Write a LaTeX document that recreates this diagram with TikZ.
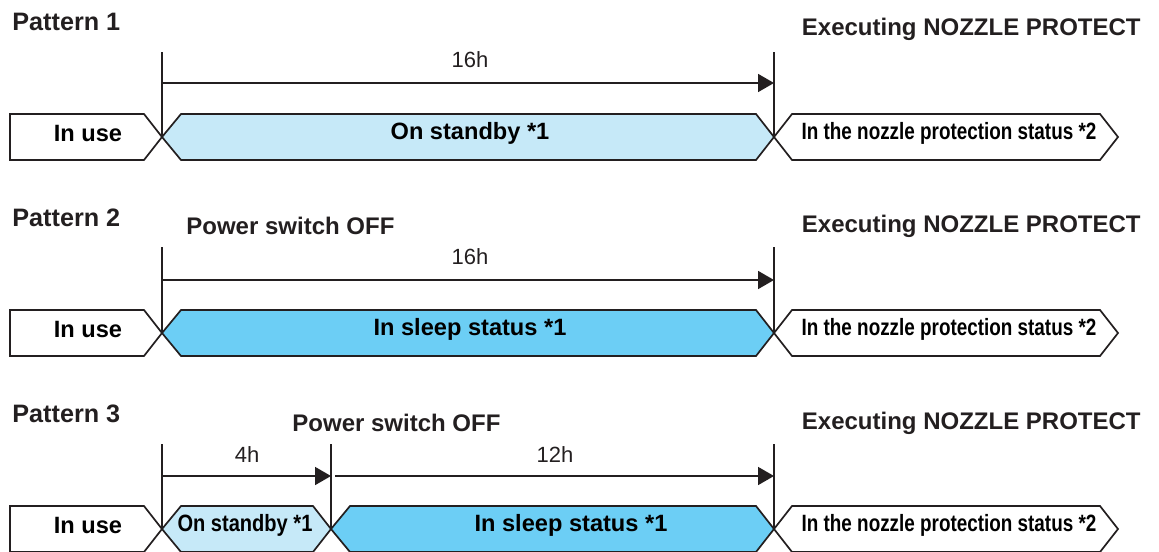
\documentclass[tikz,border=0pt]{standalone}
\usepackage{fontspec}
\setmainfont{Liberation Sans}
\newfontfamily\narrowfont[FakeStretch=0.8]{Liberation Sans}
\newfontfamily\halfnarrowfont[FakeStretch=0.85]{Liberation Sans}
\usetikzlibrary{arrows.meta}

\definecolor{ink}{RGB}{35,31,32}
\definecolor{standby}{RGB}{198,233,248}
\definecolor{sleep}{RGB}{108,206,245}

\begin{document}
\begin{tikzpicture}[x=0.5pt,y=-0.5pt,>={Triangle[length=8pt,width=9pt]},
    line join=miter,
    frame/.style={draw=ink,line width=0.85pt},
    tick/.style={draw=ink,line width=0.85pt},
    span/.style={draw=ink,line width=0.85pt,->},
    pattern/.style={font=\fontsize{12.6}{14}\selectfont\bfseries,text=ink,inner sep=0pt},
    title/.style={font=\fontsize{12}{14}\selectfont\bfseries,text=ink,inner sep=0pt},
    state/.style={font=\fontsize{11.8}{14}\selectfont\bfseries,text=black,inner sep=0pt},
    narrow/.style={font=\fontsize{11.8}{14}\narrowfont\bfseries,text=black,inner sep=0pt},
    halfnarrow/.style={font=\fontsize{11.8}{14}\halfnarrowfont\bfseries,text=black,inner sep=0pt},
    dur/.style={font=\fontsize{11}{13}\selectfont,text=ink,inner sep=0pt}]
  \useasboundingbox (0,0) rectangle (1159,551);

  % ---- Pattern 1 ----
  \node[pattern,anchor=west] (pat1) at (12,22) {Pattern 1};
  \node[title,anchor=east] (exe1) at (1141,29) {Executing NOZZLE PROTECT};
  \coordinate (s1) at (162,137);
  \coordinate (e1) at (774,137);
  \draw[tick] (s1) -- (162,52);
  \draw[tick] (e1) -- (774,52);
  \coordinate (a1s) at (162,83);
  \coordinate (a1e) at (774,83);
  \draw[span] (a1s) -- (a1e);
  \node[dur] (h1) at (470,60) {16h};
  \draw[frame,fill=white] (10,114) -- (144,114) -- (s1) -- (144,160) -- (10,160) -- cycle;
  \draw[frame,fill=standby] (s1) -- (181,114) -- (756,114) -- (e1) -- (756,160) -- (181,160) -- cycle;
  \draw[frame,fill=white] (e1) -- (792,114) -- (1100,114) -- (1118,137) -- (1100,160) -- (792,160) -- cycle;
  \node[state] (use1) at (88,133) {In use};
  \node[state] (stby1) at (470,133) {On standby *1};
  \node[narrow] (noz1) at (949,133) {In the nozzle protection status *2};

  % ---- Pattern 2 ----
  \node[pattern,anchor=west] (pat2) at (12,218) {Pattern 2};
  \node[title,anchor=west] (off2) at (186,226) {Power switch OFF};
  \node[title,anchor=east] (exe2) at (1141,226) {Executing NOZZLE PROTECT};
  \coordinate (s2) at (162,333);
  \coordinate (e2) at (774,333);
  \draw[tick] (s2) -- (162,247);
  \draw[tick] (e2) -- (774,247);
  \coordinate (a2s) at (162,280);
  \coordinate (a2e) at (774,280);
  \draw[span] (a2s) -- (a2e);
  \node[dur] (h2) at (470,257) {16h};
  \draw[frame,fill=white] (10,310) -- (144,310) -- (s2) -- (144,356) -- (10,356) -- cycle;
  \draw[frame,fill=sleep] (s2) -- (181,310) -- (756,310) -- (e2) -- (756,356) -- (181,356) -- cycle;
  \draw[frame,fill=white] (e2) -- (792,310) -- (1100,310) -- (1118,333) -- (1100,356) -- (792,356) -- cycle;
  \node[state] (use2) at (88,329) {In use};
  \node[state] (slp2) at (470,329) {In sleep status *1};
  \node[narrow] (noz2) at (949,329) {In the nozzle protection status *2};

  % ---- Pattern 3 ----
  \node[pattern,anchor=west] (pat3) at (12,414) {Pattern 3};
  \node[title,anchor=west] (off3) at (292,423) {Power switch OFF};
  \node[title,anchor=east] (exe3) at (1141,423) {Executing NOZZLE PROTECT};
  \coordinate (s3) at (162,529);
  \coordinate (m3) at (331,529);
  \coordinate (e3) at (774,529);
  \draw[tick] (s3) -- (162,444);
  \draw[tick] (m3) -- (331,444);
  \draw[tick] (e3) -- (774,444);
  \coordinate (a3s) at (162,476);
  \coordinate (a3m) at (331,476);
  \coordinate (a3n) at (335,476);
  \coordinate (a3e) at (774,476);
  \draw[span] (a3s) -- (a3m);
  \draw[span] (a3n) -- (a3e);
  \node[dur] (h3a) at (247,455) {4h};
  \node[dur] (h3b) at (555,455) {12h};
  \draw[frame,fill=white] (10,506) -- (144,506) -- (s3) -- (144,552) -- (10,552) -- cycle;
  \draw[frame,fill=standby] (s3) -- (181,506) -- (313,506) -- (m3) -- (313,552) -- (181,552) -- cycle;
  \draw[frame,fill=sleep] (m3) -- (350,506) -- (756,506) -- (e3) -- (756,552) -- (350,552) -- cycle;
  \draw[frame,fill=white] (e3) -- (792,506) -- (1100,506) -- (1118,529) -- (1100,552) -- (792,552) -- cycle;
  \node[state] (use3) at (88,525) {In use};
  \node[halfnarrow] (stby3) at (245,525) {On standby *1};
  \node[state] (slp3) at (571,525) {In sleep status *1};
  \node[narrow] (noz3) at (949,525) {In the nozzle protection status *2};
\end{tikzpicture}
\end{document}
